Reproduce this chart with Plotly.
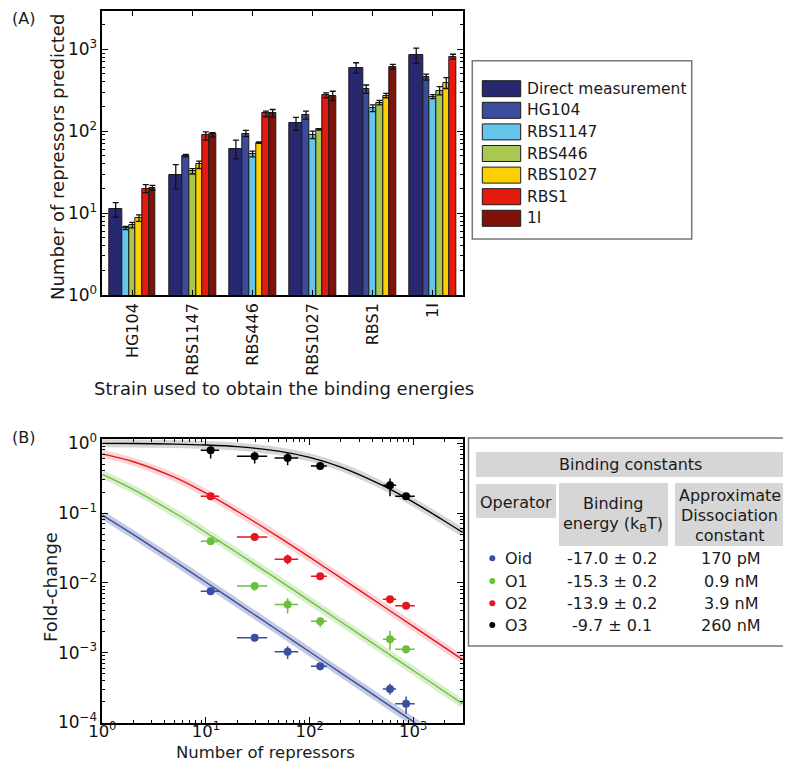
import plotly.graph_objects as go

W, H = 791, 761
OFF = 8  # the page body adds an 8 px margin around the figure
FONT = "DejaVu Sans"

# ---------------- Panel A data ----------------
strains = ["HG104", "RBS1147", "RBS446", "RBS1027", "RBS1", "1I"]
series_names = ["Direct measurement", "HG104", "RBS1147", "RBS446", "RBS1027", "RBS1", "1I"]
series_colors = ["#27286f", "#3b4c9c", "#66c5ea", "#a9c852", "#fcd000", "#e6190e", "#7f1209"]

direct_val = [11.1, 29.5, 61.4, 126.5, 597, 853]
direct_lo = [8.9, 19.9, 46, 103, 510, 670]
direct_hi = [13.4, 39, 77.6, 147, 684, 1034]

hg104_val = [None, 50.4, 93.6, 157, 324, 454]
hg104_lo = [None, 48.6, 85.6, 140, 289, 420]
hg104_hi = [None, 51.9, 102, 176, 366, 496]

rbs1147_val = [6.6, None, 53.3, 91, 193, 263]
rbs1147_lo = [6.3, None, 48.6, 81, 173, 249]
rbs1147_hi = [6.9, None, 57, 100, 209, 280]

rbs446_val = [7.2, 32.5, None, 105, 222, 312]
rbs446_lo = [6.6, 30, None, 103, 209, 277]
rbs446_hi = [7.7, 34.9, None, 107, 238, 349]

rbs1027_val = [8.8, 39.2, 72.6, None, 271, 383]
rbs1027_lo = [7.9, 35, 71, None, 256, 332]
rbs1027_hi = [9.5, 43, 74, None, 290, 450]

rbs1_val = [19.9, 89.4, 164.6, 276, None, 813]
rbs1_lo = [17.8, 77.6, 150, 256, None, 757]
rbs1_hi = [22.2, 98, 176, 294, None, 869]

one_i_val = [20.4, 91.9, 165, 271, 614, None]
one_i_lo = [19.0, 85, 148, 236, 574, None]
one_i_hi = [21.8, 96, 184, 307, 652, None]

series_vals = [direct_val, hg104_val, rbs1147_val, rbs446_val, rbs1027_val, rbs1_val, one_i_val]
series_los = [direct_lo, hg104_lo, rbs1147_lo, rbs446_lo, rbs1027_lo, rbs1_lo, one_i_lo]
series_his = [direct_hi, hg104_hi, rbs1147_hi, rbs446_hi, rbs1027_hi, rbs1_hi, one_i_hi]

# ---------------- Panel B data ----------------
operators = ["Oid", "O1", "O2", "O3"]
op_colors = ["#3b4ea0", "#6cbf3c", "#e8141e", "#000000"]
op_band_colors = ["rgba(59,78,160,0.30)", "rgba(108,191,60,0.25)",
                  "rgba(232,20,30,0.18)", "rgba(0,0,0,0.16)"]
binding_energy = ["-17.0 \u00b1 0.2", "-15.3 \u00b1 0.2", "-13.9 \u00b1 0.2", "-9.7 \u00b1 0.1"]
dissociation = ["170 pM", "0.9 nM", "3.9 nM", "260 nM"]

# measured repressor numbers (x) for the fold-change points
rep_num = direct_val
rep_lo = direct_lo
rep_hi = direct_hi

fc_oid = [0.00759, 0.00163, 0.00103, 0.000638, 0.000302, 0.000186]
fc_oid_lo = [0.00730, 0.00146, 0.000815, 0.000558, 0.000249, 0.000132]
fc_oid_hi = [0.00790, 0.00182, 0.00124, 0.000695, 0.000360, 0.000236]

fc_o1 = [0.0394, 0.00904, 0.00488, 0.00282, 0.00156, 0.00112]
fc_o1_lo = [0.0357, 0.0077, 0.00364, 0.00234, 0.00109, 0.00097]
fc_o1_hi = [0.0443, 0.0101, 0.0060, 0.00316, 0.00206, 0.00125]

fc_o2 = [0.174, 0.0455, 0.0218, 0.01244, 0.00582, 0.00468]
fc_o2_lo = [0.166, 0.0435, 0.0184, 0.0114, 0.00506, 0.00448]
fc_o2_hi = [0.182, 0.0475, 0.0254, 0.0134, 0.0065, 0.00488]

fc_o3 = [0.794, 0.651, 0.616, 0.473, 0.25, 0.174]
fc_o3_lo = [0.603, 0.511, 0.484, 0.443, 0.174, 0.164]
fc_o3_hi = [0.886, 0.751, 0.727, 0.512, 0.312, 0.184]

# theory curves
curve_R = [1, 2, 5, 10, 20, 50, 100, 200, 500, 1000, 2000, 3000]
curve_oid = [0.0935, 0.049, 0.0202, 0.0102, 0.00513, 0.00206, 0.00103, 0.000515,
             0.000206, 0.000103, 0.0000515, 0.0000344]
curve_o1 = [0.357, 0.217, 0.1, 0.0526, 0.027, 0.011, 0.00553, 0.00277,
            0.00111, 0.000555, 0.000278, 0.000185]
curve_o2 = [0.704, 0.543, 0.323, 0.192, 0.106, 0.0455, 0.0233, 0.0118,
            0.00474, 0.00238, 0.00119, 0.000793]
curve_o3 = [0.994, 0.988, 0.971, 0.943, 0.893, 0.769, 0.625, 0.455,
            0.25, 0.143, 0.0769, 0.0526]

fc_vals = [fc_oid, fc_o1, fc_o2, fc_o3]
fc_los = [fc_oid_lo, fc_o1_lo, fc_o2_lo, fc_o3_lo]
fc_his = [fc_oid_hi, fc_o1_hi, fc_o2_hi, fc_o3_hi]
curves = [curve_oid, curve_o1, curve_o2, curve_o3]

a_ticktext = ["10<sup>0</sup>", "10<sup>1</sup>", "10<sup>2</sup>", "10<sup>3</sup>"]
b_xticktext = ["10<sup>0</sup>", "10<sup>1</sup>", "10<sup>2</sup>", "10<sup>3</sup>"]
b_yticktext = ["10<sup>\u22124</sup>", "10<sup>\u22123</sup>", "10<sup>\u22122</sup>",
               "10<sup>\u22121</sup>", "10<sup>0</sup>"]


def px(x):
    return (x - OFF) / W


def py(y):
    return 1 - (y - OFF) / H


fig = go.Figure()

# ---------- Panel A bars ----------
unit = 0.7778 / 7
n_groups = len(strains)
for s, (name, color) in enumerate(zip(series_names, series_colors)):
    xs, ys, ep, em, widths = [], [], [], [], []
    for g in range(n_groups):
        v = series_vals[s][g]
        if v is None:
            continue
        c = g + 1
        if s == 0:
            xc = c - 0.3889 + unit
            w = 2 * unit
        else:
            present = [k for k in range(1, 7) if series_vals[k][g] is not None]
            k = present.index(s)
            xc = c - 0.3889 + 2 * unit + (k + 0.5) * unit
            w = unit
        xs.append(xc)
        ys.append(v)
        ep.append(series_his[s][g] - v)
        em.append(v - series_los[s][g])
        widths.append(w)
    fig.add_trace(go.Bar(
        x=xs, y=ys, width=widths, name=name, showlegend=False,
        marker=dict(color=color, line=dict(color="#1a1a1a", width=1)),
        error_y=dict(type="data", array=ep, arrayminus=em, symmetric=False,
                     color="#111111", thickness=1.3, width=3),
        xaxis="x", yaxis="y",
    ))

# ---------- Panel B curves ----------
for i in range(4):
    fig.add_trace(go.Scatter(
        x=curve_R, y=curves[i], mode="lines", showlegend=False,
        line=dict(color=op_band_colors[i], width=8, shape="spline", smoothing=0.8),
        xaxis="x2", yaxis="y2", hoverinfo="skip"))
for i in range(4):
    fig.add_trace(go.Scatter(
        x=curve_R, y=curves[i], mode="lines", showlegend=False,
        line=dict(color=op_colors[i], width=1.4, shape="spline", smoothing=0.8),
        xaxis="x2", yaxis="y2"))
for i in range(4):
    fig.add_trace(go.Scatter(
        x=rep_num, y=fc_vals[i], mode="markers", showlegend=False, name=operators[i],
        marker=dict(color=op_colors[i], size=8),
        error_x=dict(type="data", symmetric=False,
                     array=[h - v for h, v in zip(rep_hi, rep_num)],
                     arrayminus=[v - l for l, v in zip(rep_lo, rep_num)],
                     color=op_colors[i], thickness=1.5, width=0),
        error_y=dict(type="data", symmetric=False,
                     array=[h - v for h, v in zip(fc_his[i], fc_vals[i])],
                     arrayminus=[v - l for l, v in zip(fc_los[i], fc_vals[i])],
                     color=op_colors[i], thickness=1.5, width=0),
        xaxis="x2", yaxis="y2"))

ax_common = dict(showline=True, linecolor="black", linewidth=1.5, mirror="allticks",
                 ticks="inside", tickcolor="black", showgrid=False, zeroline=False,
                 automargin=False)
tick_font = dict(family=FONT, size=17, color="#111111")

minor_a = [m * 10 ** e for e in range(0, 4) for m in range(2, 10)]
minor_bx = [m * 10 ** e for e in range(0, 4) for m in range(2, 10)]
minor_by = [m * 10.0 ** e for e in range(-4, 0) for m in range(2, 10)]

fig.update_layout(
    width=W, height=H, margin=dict(l=0, r=0, t=0, b=0, autoexpand=False),
    paper_bgcolor="white", plot_bgcolor="white", bargap=0,
    barmode="overlay",
    xaxis=dict(domain=[px(102.3), px(463)], range=[0.5, 6.5],
               tickvals=list(range(1, 7)), ticktext=strains, tickangle=-90,
               ticklen=5, tickfont=dict(family=FONT, size=16, color="#111111"),
               **ax_common),
    yaxis=dict(domain=[py(295), py(11)], type="log", range=[0, 3.467],
               tickvals=[1, 10, 100, 1000], ticktext=a_ticktext, ticklen=6,
               minor=dict(tickvals=minor_a, ticks="inside", ticklen=3, tickcolor="black"),
               tickfont=tick_font, **ax_common),
    xaxis2=dict(domain=[px(102.3), px(463)], type="log", range=[0, 3.48],
                tickvals=[1, 10, 100, 1000], ticktext=b_xticktext, ticklen=6,
                ticklabelstandoff=-7,
                minor=dict(tickvals=minor_bx, ticks="inside", ticklen=3, tickcolor="black"),
                anchor="y2", tickfont=dict(family=FONT, size=16.5, color="#111111"),
                **ax_common),
    yaxis2=dict(domain=[py(722.5), py(439)], type="log", range=[-4, 0.06],
                tickvals=[1e-4, 1e-3, 1e-2, 1e-1, 1], ticktext=b_yticktext, ticklen=6,
                minor=dict(tickvals=minor_by, ticks="inside", ticklen=3, tickcolor="black"),
                anchor="x2", tickfont=tick_font, **ax_common),
)

ann = []
shapes = []


def add_text(x, y, text, size=16, xanchor="center", angle=0, color="#1a1a1a"):
    ann.append(dict(x=px(x), y=py(y), xref="paper", yref="paper", text=text,
                    showarrow=False, xanchor=xanchor, yanchor="middle", textangle=angle,
                    font=dict(family=FONT, size=size, color=color)))


add_text(23, 19, "(A)", 16)
add_text(23, 437, "(B)", 16)
add_text(57, 157, "Number of repressors predicted", 18, angle=-90)
add_text(284, 388, "Strain used to obtain the binding energies", 18)
add_text(50, 587, "Fold-change", 18, angle=-90)
add_text(265, 752.5, "Number of repressors", 16.5)

# Panel A legend
shapes.append(dict(type="rect", xref="paper", yref="paper", x0=px(472.3), x1=px(691.7),
                   y0=py(239), y1=py(60.7), line=dict(color="#777777", width=1.5),
                   fillcolor="white", layer="above"))
for i, (name, color) in enumerate(zip(series_names, series_colors)):
    yc = 88.7 + i * 21.6
    shapes.append(dict(type="rect", xref="paper", yref="paper", x0=px(482.3), x1=px(520.7),
                       y0=py(yc + 8), y1=py(yc - 8), fillcolor=color,
                       line=dict(color="#1a1a1a", width=1), layer="above"))
    add_text(524.5, yc, name, 15.5, xanchor="left")

# Panel B table
shapes.append(dict(type="rect", xref="paper", yref="paper", x0=px(468.5), x1=px(800),
                   y0=py(646), y1=py(438), line=dict(color="#777777", width=1.5),
                   fillcolor="white"))
gray = "#d6d6d6"
for (x0, x1, y0, y1) in [(476, 784, 452, 477), (476, 556, 484, 518),
                         (559, 668, 483, 546), (675, 784, 483, 546)]:
    shapes.append(dict(type="rect", xref="paper", yref="paper", x0=px(x0), x1=px(x1),
                       y0=py(y1), y1=py(y0), fillcolor=gray, line=dict(width=0)))
add_text(630, 464.5, "Binding constants", 16)
add_text(516, 502, "Operator", 16)
add_text(612.7, 503.3, "Binding", 16)
add_text(612.7, 524.3, "energy (k<sub>B</sub>T)", 16)
add_text(729.5, 495.7, "Approximate", 16)
add_text(729.5, 515.7, "Dissociation", 16)
add_text(729.5, 535.7, "constant", 16)
row_y = [558.3, 581, 603.3, 625]
for i in range(4):
    yc = row_y[i]
    shapes.append(dict(type="circle", xref="paper", yref="paper",
                       x0=px(489.3), x1=px(495.3), y0=py(yc + 3), y1=py(yc - 3),
                       fillcolor=op_colors[i], line=dict(width=0)))
    add_text(502.5, yc, operators[i], 16, xanchor="left")
    add_text(611.7, yc, binding_energy[i], 16)
    add_text(731, yc, dissociation[i], 16)

fig.update_layout(annotations=ann, shapes=shapes)
fig.write_html("out.html")
